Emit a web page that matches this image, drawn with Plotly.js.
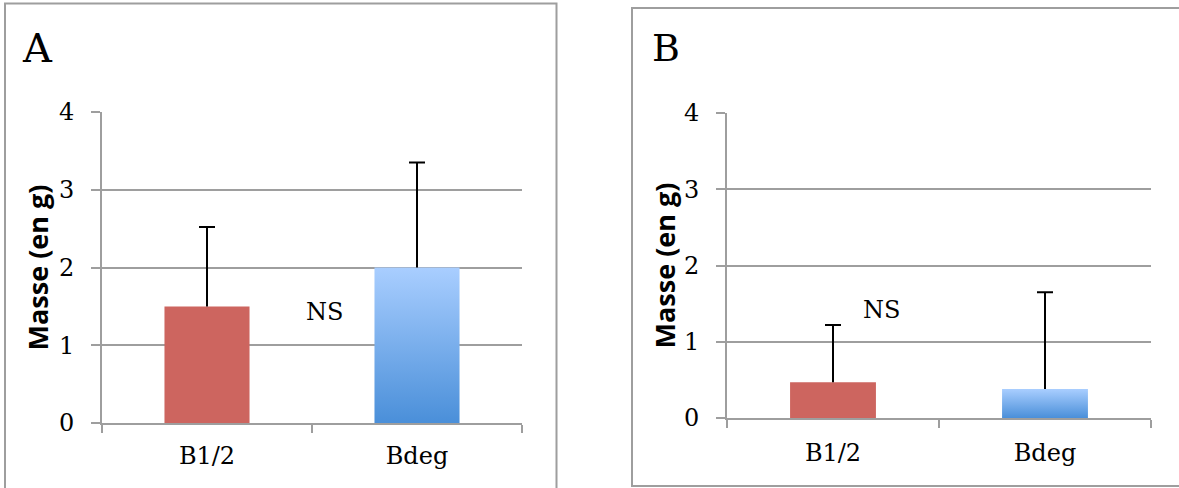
<!DOCTYPE html>
<html>
<head>
<meta charset="utf-8">
<script src="https://cdn.plot.ly/plotly-3.0.1.min.js"></script>
<style>html,body{margin:0;padding:0;background:#fff;}#chart{width:1179px;height:488px;}</style>
</head>
<body>
<div id="chart"></div>
<script>
// ---- data ----
const categories = ['B1/2', 'Bdeg'];
const massA = [1.5, 2.0];
const errA = [1.02, 1.35];
const massB = [0.47, 0.38];
const errB = [0.75, 1.27];
const yTicks = [0, 1, 2, 3, 4];
const panelLabels = ['A', 'B'];
const nsLabel = 'NS';
const yTitle = 'Masse (en g)';

const red = '#CD655F';
const blueMid = '#78AEEC';
const serif = 'DejaVu Serif, serif';
const gray = '#9E9E9E';

function barTrace(vals, errs, xa, ya, name) {
  return {
    type: 'bar', x: categories, y: vals, xaxis: xa, yaxis: ya, name: name,
    marker: {color: [red, blueMid], line: {width: 0}},
    error_y: {type: 'data', symmetric: false, array: errs, arrayminus: vals.map(() => 0),
              color: '#000', thickness: 2, width: 8},
    showlegend: false, hoverinfo: 'x+y'
  };
}

function yAxis(standoff) {
  return {
    range: [0, 4], tickvals: yTicks, ticktext: yTicks.map(String),
    showgrid: true, gridcolor: gray, gridwidth: 2,
    showline: true, linecolor: gray, linewidth: 2,
    ticks: 'outside', ticklen: 9, tickcolor: gray, tickwidth: 2,
    zeroline: false, fixedrange: true, ticklabelstandoff: 12,
    tickfont: {family: serif, size: 24, color: '#000'},
    title: {text: yTitle, font: {family: 'Open Sans, sans-serif', size: 27, color: '#000', weight: 'bold'}, standoff: standoff}
  };
}
function xAxis(labelStandoff) {
  return {
    type: 'category', showline: true, linecolor: gray, linewidth: 2,
    ticks: 'outside', tickson: 'boundaries', ticklen: 8, tickcolor: gray, tickwidth: 2,
    ticklabelstandoff: labelStandoff,
    tickfont: {family: serif, size: 24, color: '#000'}, fixedrange: true
  };
}

const W = 1179, H = 488;
const layout = {
  width: W, height: H, margin: {l: 0, r: 0, t: 0, b: 0},
  paper_bgcolor: '#fff', plot_bgcolor: '#fff',
  bargap: 0.595,
  xaxis: Object.assign(xAxis(10), {domain: [102 / W, 522 / W], anchor: 'y'}),
  yaxis: Object.assign(yAxis(2), {domain: [(H - 423) / H, (H - 112) / H], anchor: 'x'}),
  xaxis2: Object.assign(xAxis(12), {domain: [727 / W, 1151 / W], anchor: 'y2'}),
  yaxis2: Object.assign(yAxis(0), {domain: [(H - 418) / H, (H - 113) / H], anchor: 'x2'}),
  shapes: [
    {type: 'rect', xref: 'paper', yref: 'paper', x0: 5 / W, x1: 556.5 / W, y0: -0.02, y1: (H - 3.5) / H,
     line: {color: gray, width: 2}, fillcolor: 'rgba(0,0,0,0)', layer: 'below'},
    {type: 'rect', xref: 'paper', yref: 'paper', x0: 632 / W, x1: 1.02, y0: (H - 486) / H, y1: (H - 8) / H,
     line: {color: gray, width: 2}, fillcolor: 'rgba(0,0,0,0)', layer: 'below'}
  ],
  annotations: [
    {text: panelLabels[0], xref: 'paper', yref: 'paper', x: 38 / W, y: (H - 48) / H, showarrow: false,
     xanchor: 'center', yanchor: 'middle', font: {family: serif, size: 40, color: '#000'}},
    {text: panelLabels[1], xref: 'paper', yref: 'paper', x: 666 / W, y: (H - 48) / H, showarrow: false,
     xanchor: 'center', yanchor: 'middle', font: {family: serif, size: 38, color: '#000'}},
    {text: nsLabel, xref: 'x', yref: 'y', x: 0.56, y: 1.43, showarrow: false,
     font: {family: serif, size: 24, color: '#000'}},
    {text: nsLabel, xref: 'x2', yref: 'y2', x: 0.23, y: 1.42, showarrow: false,
     font: {family: serif, size: 24, color: '#000'}}
  ]
};

const data = [barTrace(massA, errA, 'x', 'y', 'A'), barTrace(massB, errB, 'x2', 'y2', 'B')];

Plotly.newPlot('chart', data, layout, {displayModeBar: false, staticPlot: true}).then(function (gd) {
  const svg = gd.querySelector('svg.main-svg');
  const ns = 'http://www.w3.org/2000/svg';
  let defs = svg.querySelector('defs');
  if (!defs) { defs = document.createElementNS(ns, 'defs'); svg.insertBefore(defs, svg.firstChild); }
  const g = document.createElementNS(ns, 'linearGradient');
  g.setAttribute('id', 'bdegGrad');
  g.setAttribute('x1', '0'); g.setAttribute('y1', '0'); g.setAttribute('x2', '0'); g.setAttribute('y2', '1');
  [['0', '#A9CEFF'], ['1', '#4A8FD9']].forEach(function (s) {
    const st = document.createElementNS(ns, 'stop');
    st.setAttribute('offset', s[0]); st.setAttribute('stop-color', s[1]);
    g.appendChild(st);
  });
  defs.appendChild(g);
  gd.querySelectorAll('.barlayer .trace').forEach(function (tr) {
    const pts = tr.querySelectorAll('.point path');
    if (pts[1]) pts[1].style.fill = 'url(#bdegGrad)';
  });
  // one-sided error bars: drop the lower cap (the "shoe") at the bar top
  gd.querySelectorAll('.errorbar path.yerror').forEach(function (p) {
    const d = p.getAttribute('d');
    if (d) p.setAttribute('d', d.replace(/m-[\d.]+,0h[\d.]+$/, ''));
  });
});
</script>
</body>
</html>
